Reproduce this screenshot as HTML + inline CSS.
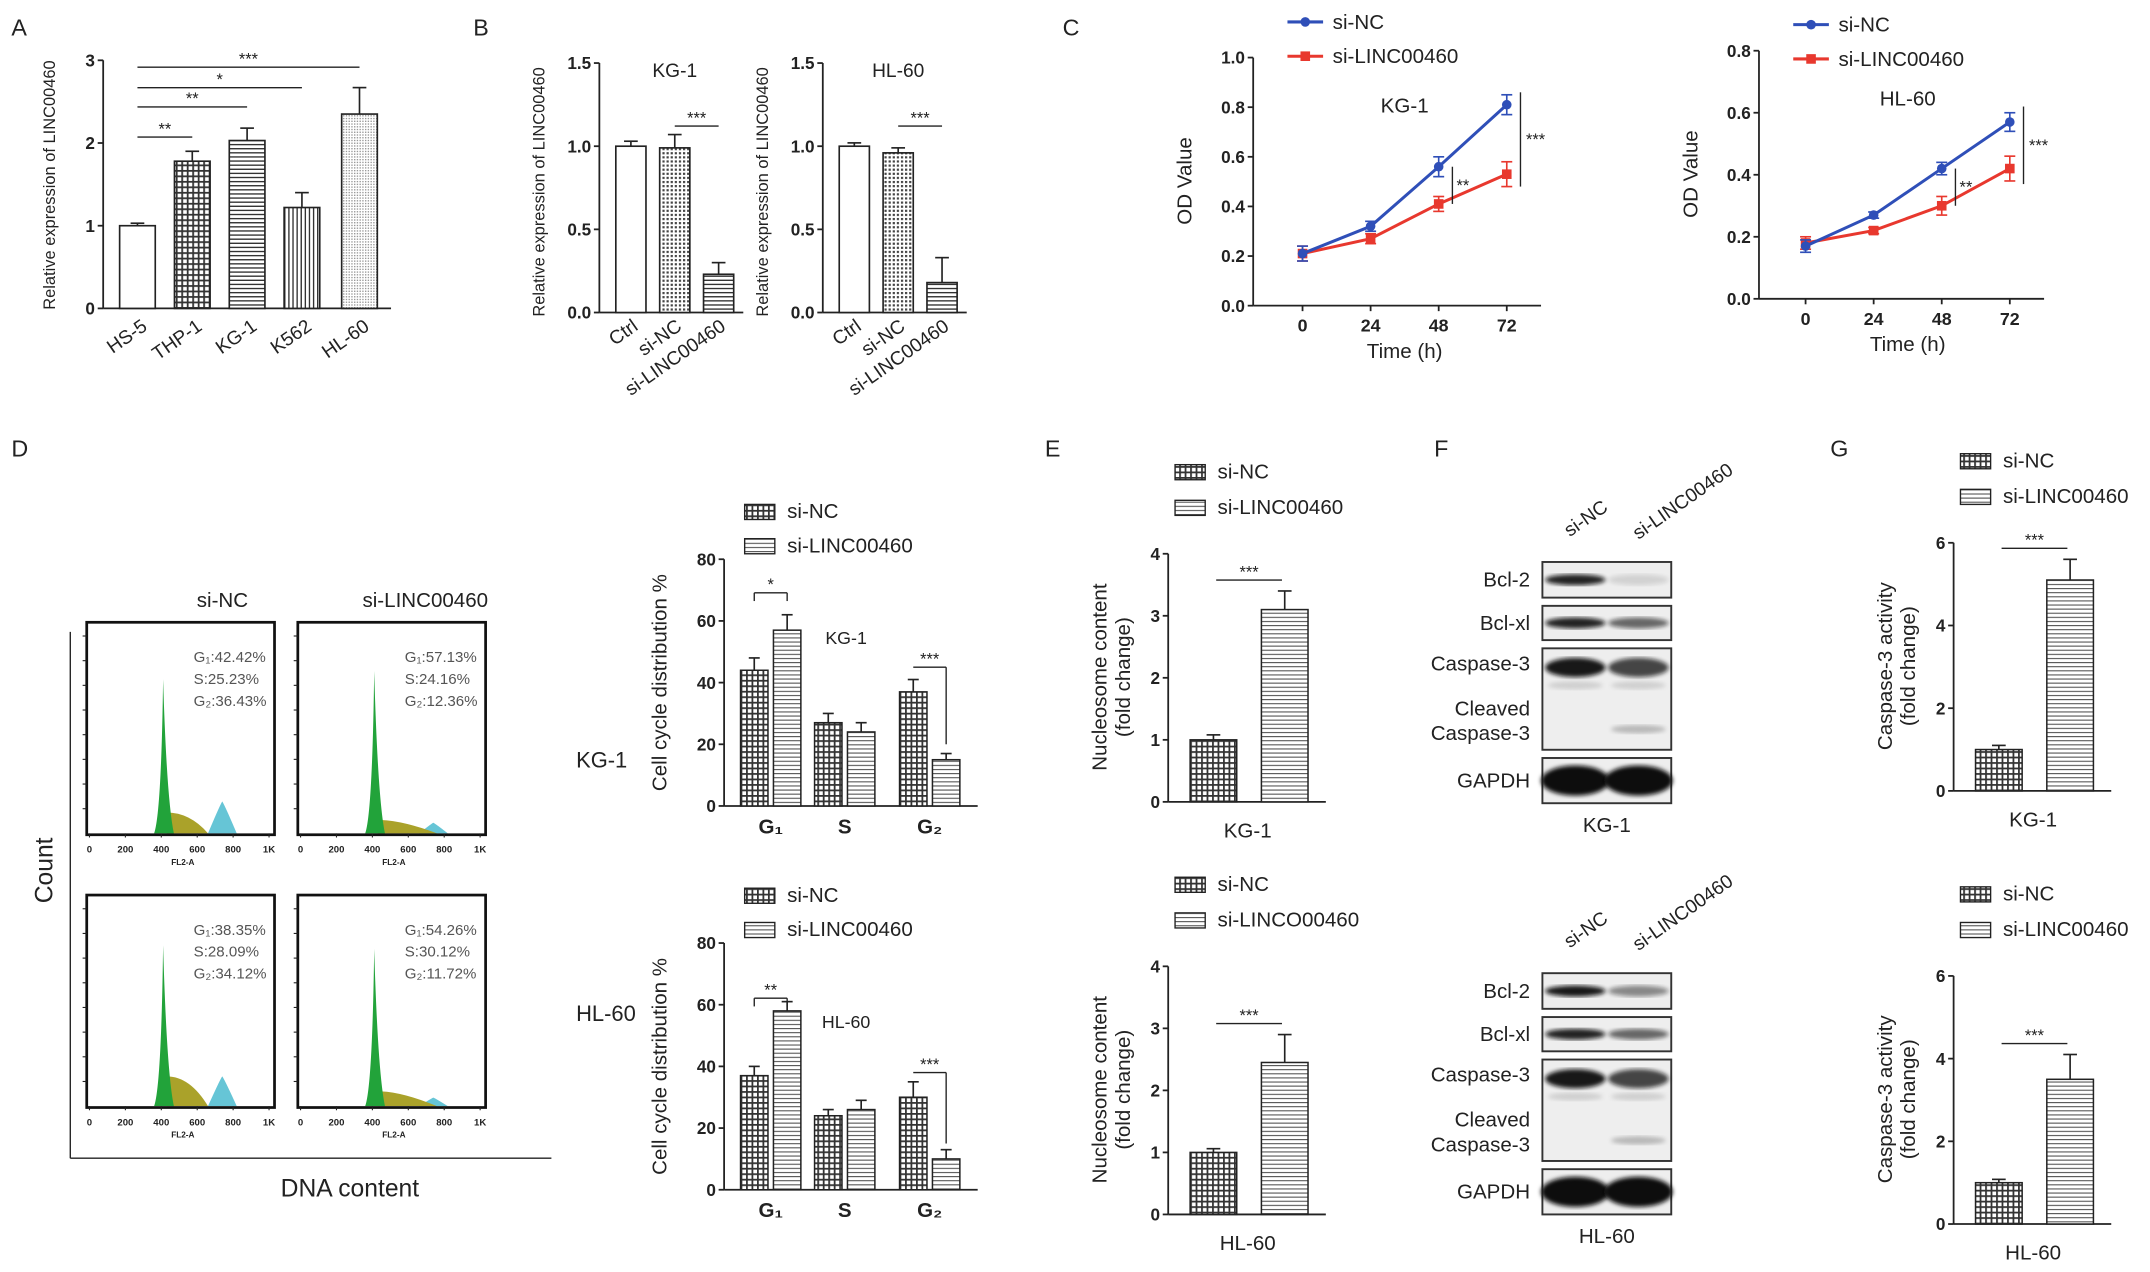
<!DOCTYPE html>
<html><head><meta charset="utf-8"><style>
html,body{margin:0;padding:0;background:#fff;}
svg{display:block;font-family:"Liberation Sans",Arial,sans-serif;}
</style></head><body>
<svg id="fig" width="2150" height="1272" viewBox="0 0 1568 928" xmlns="http://www.w3.org/2000/svg">
<defs>
<pattern id="pDots" width="3" height="3" patternUnits="userSpaceOnUse"><rect width="3" height="3" fill="#fff"/><rect width="1.6" height="1.6" fill="#444"/></pattern>
<pattern id="pGrid" width="4" height="4" patternUnits="userSpaceOnUse"><rect width="4" height="4" fill="#fff"/><rect width="4" height="1.3" fill="#333"/><rect width="1.3" height="4" fill="#333"/></pattern>
<pattern id="pH" width="4" height="3" patternUnits="userSpaceOnUse"><rect width="4" height="3" fill="#fff"/><rect width="4" height="1" fill="#333"/></pattern>
<pattern id="pV" width="3" height="4" patternUnits="userSpaceOnUse"><rect width="3" height="4" fill="#fff"/><rect width="1" height="4" fill="#333"/></pattern>
<pattern id="pFine" width="2" height="2" patternUnits="userSpaceOnUse"><rect width="2" height="2" fill="#fff"/><rect width="1" height="1" fill="#999"/></pattern>
<pattern id="pLines" width="4" height="3" patternUnits="userSpaceOnUse"><rect width="4" height="3" fill="#fff"/><rect width="4" height="0.8" fill="#555"/></pattern>
<filter id="blur"><feGaussianBlur stdDeviation="1.5"/></filter>
</defs>
<g id="root"></g>
</svg>
<script>
// ---------- DATA ----------
const aCats=["HS-5","THP-1","KG-1","K562","HL-60"];
const aVals=[1.0,1.78,2.03,1.22,2.35];
const aErr=[0.03,0.12,0.15,0.18,0.32];
const aTicks=[0,1,2,3];
const bCats=["Ctrl","si-NC","si-LINC00460"];
const bKG=[1.0,0.99,0.23];
const bKGErr=[0.03,0.08,0.07];
const bHL=[1.0,0.96,0.18];
const bHLErr=[0.02,0.03,0.15];
const bTicks=[0,0.5,1.0,1.5];
const cTimes=[0,24,48,72];
const cKGNC=[0.21,0.32,0.56,0.81];
const cKGNCErr=[0.03,0.02,0.04,0.04];
const cKGSi=[0.21,0.27,0.41,0.53];
const cKGSiErr=[0.03,0.02,0.03,0.05];
const cKGTicks=[0,0.2,0.4,0.6,0.8,1.0];
const cHLNC=[0.17,0.27,0.42,0.57];
const cHLNCErr=[0.02,0.01,0.02,0.03];
const cHLSi=[0.18,0.22,0.30,0.42];
const cHLSiErr=[0.02,0.01,0.03,0.04];
const cHLTicks=[0,0.2,0.4,0.6,0.8];
const dPhases=["G₁","S","G₂"];
const dKGNC=[44,27,37];
const dKGSi=[57,24,15];
const dKGNCErr=[4,3,4];
const dKGSiErr=[5,3,2];
const dHLNC=[37,24,30];
const dHLSi=[58,26,10];
const dHLNCErr=[3,2,5];
const dHLSiErr=[3,3,3];
const dTicks=[0,20,40,60,80];
const eKG=[1.0,3.1];
const eKGErr=[0.08,0.3];
const eHL=[1.0,2.45];
const eHLErr=[0.06,0.45];
const eTicks=[0,1,2,3,4];
const gKG=[1.0,5.1];
const gKGErr=[0.1,0.5];
const gHL=[1.0,3.5];
const gHLErr=[0.08,0.6];
const gTicks=[0,2,4,6];
const flowLabels=[["G₁:42.42%","S:25.23%","G₂:36.43%"],["G₁:57.13%","S:24.16%","G₂:12.36%"],["G₁:38.35%","S:28.09%","G₂:34.12%"],["G₁:54.26%","S:30.12%","G₂:11.72%"]];
const flowG2=[0.30,0.10,0.28,0.08];
const flowS=[0.14,0.09,0.20,0.10];
const flowG1=[0.93,0.98,0.97,0.95];

// ---------- helpers ----------
const NS="http://www.w3.org/2000/svg";
const root=document.getElementById('root');
function mk(tag,attrs,parent){const e=document.createElementNS(NS,tag);for(const k in attrs)e.setAttribute(k,attrs[k]);(parent||root).appendChild(e);return e;}
function txt(x,y,s,size,anchor,parent,extra){const t=mk('text',Object.assign({x:x,y:y,'font-size':size,'text-anchor':anchor||'start',fill:'#222'},extra||{}),parent);t.textContent=s;return t;}
function lin(x1,y1,x2,y2,parent,w,c){return mk('line',{x1,y1,x2,y2,stroke:c||'#222','stroke-width':w||1.3},parent);}
function scale(d0,d1,r0,r1){return v=>r0+(v-d0)*(r1-r0)/(d1-d0);}
function yAxis(g,x,yS,ticks,fmt){lin(x,yS(ticks[ticks.length-1]),x,yS(ticks[0]),g);ticks.forEach(t=>{lin(x-4,yS(t),x,yS(t),g);txt(x-6,yS(t)+4.5,fmt(t),12.5,'end',g,{'font-weight':'bold'});});}
function errBar(g,x,ytop,yerr,w){lin(x,ytop,x,yerr,g,1.2);lin(x-w,yerr,x+w,yerr,g,1.2);}
function sig(g,x1,x2,y,s,drop){lin(x1,y,x2,y,g,1);if(drop){lin(x1,y,x1,y+drop,g,1);lin(x2,y,x2,y+drop,g,1);}txt((x1+x2)/2,y-2,s,12,'middle',g);}
function panelLetter(x,y,s){const t=txt(x,y,s,17,'start');}

// ---------- Panel A ----------
panelLetter(8,26,"A");
{const g=mk('g',{});
const y=scale(0,3,225,44);const x0=75;const xs=[100,140,180,220,262];const fills=["#fff","url(#pGrid)","url(#pH)","url(#pV)","url(#pFine)"];
yAxis(g,x0,y,aTicks,t=>String(t));lin(x0,225,285,225,g);
aCats.forEach((c,i)=>{const r=mk('rect',{x:xs[i]-13,y:y(aVals[i]),width:26,height:225-y(aVals[i]),fill:fills[i],stroke:'#222','stroke-width':1.2},g);

errBar(g,xs[i],y(aVals[i]),y(aVals[i]+aErr[i]),5);
txt(xs[i]+8,240,c,14,'end',g,{transform:`rotate(-35 ${xs[i]+8} 240)`});});
sig(g,xs[0],xs[1],100,"**");sig(g,xs[0],xs[2],78,"**");sig(g,xs[0],xs[3],64,"*");sig(g,xs[0],xs[4],49,"***");
txt(40,135,"Relative expression of LINC00460",12,'middle',g,{transform:'rotate(-90 40 135)'});}

// ---------- Panel B ----------
panelLetter(345,26,"B");
function panelB(x0,vals,errs,title,nm){const g=mk('g',{});
const y=scale(0,1.5,228,46);const xs=[x0+23,x0+55,x0+87];const fills=["#fff","url(#pDots)","url(#pH)"];
yAxis(g,x0,y,bTicks,t=>t.toFixed(1));lin(x0,228,x0+105,228,g);
bCats.forEach((c,i)=>{const r=mk('rect',{x:xs[i]-11,y:y(vals[i]),width:22,height:228-y(vals[i]),fill:fills[i],stroke:'#222','stroke-width':1.2},g);

errBar(g,xs[i],y(vals[i]),y(vals[i]+errs[i]),5);
txt(xs[i]+6,240,c,14,'end',g,{transform:`rotate(-35 ${xs[i]+6} 240)`});});
sig(g,xs[1],xs[2],92,"***");txt(x0+55,56,title,14,'middle',g);
txt(x0-40,140,"Relative expression of LINC00460",12,'middle',g,{transform:`rotate(-90 ${x0-40} 140)`});}
panelB(437,bKG,bKGErr,"KG-1",'panel-b-kg1-chart');panelB(600,bHL,bHLErr,"HL-60",'panel-b-hl60-chart');

// ---------- Panel C ----------
panelLetter(775,26,"C");
function panelC(x0,yTop,ticks,nc,ncE,si,siE,title,nm,xpos,legY){const g=mk('g',{});
const yb=yTop+181;const y=scale(0,ticks[ticks.length-1],yb,yTop);const x=scale(0,72,xpos[0],xpos[1]);
yAxis(g,x0,y,ticks,t=>t.toFixed(1));lin(x0,yb,x(72)+25,yb,g);
cTimes.forEach(t=>{lin(x(t),yb,x(t),yb+4,g);txt(x(t),yb+19,String(t),13,'middle',g,{'font-weight':'bold'});});
txt(x(36),yb+38,"Time (h)",15,'middle',g);txt(x0-45,yTop+90,"OD Value",15,'middle',g,{transform:`rotate(-90 ${x0-45} ${yTop+90})`});
txt(x(36),yTop+40,title,15,'middle',g);
[[si,siE,'#e8382e','series-si-linc00460'],[nc,ncE,'#2f4fb8','series-si-nc']].forEach(([v,e,c,n])=>{
const p=mk('polyline',{points:v.map((d,i)=>x(cTimes[i])+','+y(d)).join(' '),fill:'none',stroke:c,'stroke-width':2.2},g);
v.forEach((d,i)=>{lin(x(cTimes[i]),y(d-e[i]),x(cTimes[i]),y(d+e[i]),g,1.2,c);lin(x(cTimes[i])-4,y(d+e[i]),x(cTimes[i])+4,y(d+e[i]),g,1.2,c);lin(x(cTimes[i])-4,y(d-e[i]),x(cTimes[i])+4,y(d-e[i]),g,1.2,c);
if(c==='#2f4fb8'){const m=mk('circle',{cx:x(cTimes[i]),cy:y(d),r:3.5,fill:c},g);}
else{const m=mk('rect',{x:x(cTimes[i])-3.5,y:y(d)-3.5,width:7,height:7,fill:c},g);}});});
lin(x(48)+10,y(nc[2]),x(48)+10,y(si[2]),g,1);txt(x(48)+13,y((nc[2]+si[2])/2)+4,"**",12,'start',g);
lin(x(72)+10,y(nc[3]+0.05),x(72)+10,y(si[3]-0.05),g,1);txt(x(72)+14,y((nc[3]+si[3])/2)+4,"***",12,'start',g);
const lx=x0+25;const l1=mk('g',{},g);
lin(lx,legY,lx+26,legY,l1,2.2,'#2f4fb8');mk('circle',{cx:lx+13,cy:legY,r:3.5,fill:'#2f4fb8'},l1);txt(lx+33,legY+5,"si-NC",15,'start',l1);
const l2=mk('g',{},g);
lin(lx,legY+25,lx+26,legY+25,l2,2.2,'#e8382e');mk('rect',{x:lx+9.5,y:legY+21.5,width:7,height:7,fill:'#e8382e'},l2);txt(lx+33,legY+30,"si-LINC00460",15,'start',l2);}
panelC(914,42,cKGTicks,cKGNC,cKGNCErr,cKGSi,cKGSiErr,"KG-1",'panel-c-kg1-chart',[950,1099],16);
panelC(1283,37,cHLTicks,cHLNC,cHLNCErr,cHLSi,cHLSiErr,"HL-60",'panel-c-hl60-chart',[1317,1466],18);

// ---------- Panel D flow ----------
panelLetter(8,333,"D");
{const g=mk('g',{});
txt(162,443,"si-NC",15,'middle',g);txt(310,443,"si-LINC00460",15,'middle',g);
txt(38,635,"Count",18,'middle',g,{transform:'rotate(-90 38 635)'});lin(51,461,51,845,g,1);lin(51,845,402,845,g,1);
txt(255,873,"DNA content",18,'middle',g);txt(420,560,"KG-1",16,'start',g);txt(420,745,"HL-60",16,'start',g);
const boxes=[[63,454],[217,454],[63,653],[217,653]];
boxes.forEach((b,k)=>{const bx=b[0],by=b[1],w=137,h=155;const sg=mk('g',{},g);
const base=by+h-1;const X=v=>bx+2+v/1000*(w-6);
mk('path',{d:`M${X(660)} ${base} Q${X(735)} ${base-h*flowG2[k]*0.5} ${X(740)} ${base-h*flowG2[k]*0.5} Q${X(760)} ${base-h*flowG2[k]*0.4} ${X(820)} ${base} Z`,fill:'#66c5d6'},sg);
mk('path',{d:`M${X(430)} ${base} L${X(430)} ${base-h*flowS[k]*0.7} Q${X(560)} ${base-h*flowS[k]*0.7} ${X(k%2?760:660)} ${base} Z`,fill:'#aaa22a'},sg);
mk('path',{d:`M${X(360)} ${base} Q${X(400)} ${base-15} ${X(410)} ${base-h*flowG1[k]*0.78} Q${X(430)} ${base-25} ${X(470)} ${base} Z`,fill:'#22a33a'},sg);
mk('rect',{x:bx,y:by,width:w,height:h,fill:'none',stroke:'#111','stroke-width':2},sg);
[0,200,400,600,800,1000].forEach((t,i)=>{lin(X(t),base,X(t),base+3,sg,0.8);txt(X(t),base+14,['0','200','400','600','800','1K'][i],7,'middle',sg,{'font-weight':'bold'});});
for(let i=0;i<8;i++)lin(bx-3,by+10+i*18,bx,by+10+i*18,sg,0.8);
txt(X(520),base+23,"FL2-A",6,'middle',sg,{'font-weight':'bold'});
flowLabels[k].forEach((s,i)=>txt(bx+78,by+29+i*16,s,11,'start',sg,{fill:'#555'}));});}

// ---------- Panel D bars ----------
function panelDBar(x0,yTop,nc,ncE,si,siE,title,nm,stars){const g=mk('g',{});
const yb=yTop+180;const y=scale(0,80,yb,yTop);yAxis(g,x0,y,dTicks,t=>String(t));lin(x0,yb,x0+185,yb,g);
const cx=[562,616,678];
dPhases.forEach((p,i)=>{[[nc,ncE,'url(#pGrid)',-12,'si-nc'],[si,siE,'url(#pLines)',12,'si-linc00460']].forEach(([v,e,f,o,n])=>{
const r=mk('rect',{x:cx[i]+o-10,y:y(v[i]),width:20,height:yb-y(v[i]),fill:f,stroke:'#222','stroke-width':1.1},g);
errBar(g,cx[i]+o,y(v[i]),y(v[i]+e[i]),4);});
txt(cx[i],yb+20,p,15,'middle',g,{'font-weight':'bold'});});
sig(g,cx[0]-12,cx[0]+12,y(nc[0]+26)+2,stars[0],6);sig(g,cx[2]-12,cx[2]+12,y(nc[2]+8),stars[1],0);lin(cx[2]+12,y(nc[2]+8),cx[2]+12,y(si[2]+5),g,1);
txt(617,yTop+62,title,13,'middle',g);txt(x0-42,yTop+90,"Cell cycle distribution %",15,'middle',g,{transform:`rotate(-90 ${x0-42} ${yTop+90})`});
const l1=mk('g',{},g);
mk('rect',{x:x0+15,y:yTop-40,width:22,height:11,fill:'url(#pGrid)',stroke:'#222'},l1);txt(x0+46,yTop-30,"si-NC",15,'start',l1);
const l2=mk('g',{},g);
mk('rect',{x:x0+15,y:yTop-15,width:22,height:11,fill:'url(#pLines)',stroke:'#222'},l2);txt(x0+46,yTop-5,"si-LINC00460",15,'start',l2);}
panelDBar(528,408,dKGNC,dKGNCErr,dKGSi,dKGSiErr,"KG-1",'panel-d-kg1-bar-chart',["*","***"]);
panelDBar(528,688,dHLNC,dHLNCErr,dHLSi,dHLSiErr,"HL-60",'panel-d-hl60-bar-chart',["**","***"]);

// ---------- Panel E / G ----------
function twoBar(x0,yTop,ymax,ticks,vals,errs,title,ylab1,nm,legend2){const g=mk('g',{});
const yb=yTop+181;const y=scale(0,ymax,yb,yTop);yAxis(g,x0,y,ticks,t=>String(t));lin(x0,yb,x0+115,yb,g);
const cx=[x0+33,x0+85];const f=['url(#pGrid)','url(#pLines)'];const nmz=['si-nc','si-linc00460'];
vals.forEach((v,i)=>{const r=mk('rect',{x:cx[i]-17,y:y(v),width:34,height:yb-y(v),fill:f[i],stroke:'#222','stroke-width':1.1},g);errBar(g,cx[i],y(v),y(v+errs[i]),5);});
sig(g,cx[0]+2,cx[1]-2,y(vals[1]+errs[1])-8,"***",0);
txt(x0+58,yb+26,title,15,'middle',g);
txt(x0-45,yTop+90,ylab1[0],15,'middle',g,{transform:`rotate(-90 ${x0-45} ${yTop+90})`});txt(x0-28,yTop+90,ylab1[1],15,'middle',g,{transform:`rotate(-90 ${x0-28} ${yTop+90})`});
const l1=mk('g',{},g);
mk('rect',{x:x0+5,y:yTop-65,width:22,height:11,fill:'url(#pGrid)',stroke:'#222'},l1);txt(x0+36,yTop-55,"si-NC",15,'start',l1);
const l2=mk('g',{},g);
mk('rect',{x:x0+5,y:yTop-39,width:22,height:11,fill:'url(#pLines)',stroke:'#222'},l2);txt(x0+36,yTop-29,legend2,15,'start',l2);}
panelLetter(762,333,"E");
twoBar(852,404,4,eTicks,eKG,eKGErr,"KG-1",["Nucleosome content","(fold change)"],'panel-e-kg1-chart',"si-LINC00460");
twoBar(852,705,4,eTicks,eHL,eHLErr,"HL-60",["Nucleosome content","(fold change)"],'panel-e-hl60-chart',"si-LINCO00460");
panelLetter(1335,333,"G");
twoBar(1425,396,6,gTicks,gKG,gKGErr,"KG-1",["Caspase-3 activity","(fold change)"],'panel-g-kg1-chart',"si-LINC00460");
twoBar(1425,712,6,gTicks,gHL,gHLErr,"HL-60",["Caspase-3 activity","(fold change)"],'panel-g-hl60-chart',"si-LINC00460");

// ---------- Panel F blots ----------
panelLetter(1046,333,"F");
function blot(yOff,title,nm,bands){const g=mk('g',{transform:`translate(0 ${yOff})`});
txt(1145,392,"si-NC",14,'start',g,{transform:'rotate(-35 1145 392)'});txt(1195,394,"si-LINC00460",14,'start',g,{transform:'rotate(-35 1195 394)'});
const rows=[[410,436,"Bcl-2"],[442,467,"Bcl-xl"],[473,547,"Caspase-3"],[553,586,"GAPDH"]];
rows.forEach((r,i)=>{mk('rect',{x:1125,y:r[0],width:94,height:r[1]-r[0],fill:'#eeeeee',stroke:'#333','stroke-width':1.4},g);
const by=i==2?r[0]+14:(r[0]+r[1])/2;const bh=i==3?22:(i==2?14:8);
[[1149,bands[i][0]],[1195,bands[i][1]]].forEach(([cx,op])=>{const e=mk('ellipse',{cx:cx,cy:by,rx:i==3?25:22,ry:bh/2,fill:'#111',opacity:op,filter:'url(#blur)'},g);});
txt(1116,i==2?r[0]+16:(r[0]+r[1])/2+5,r[2],15,'end',g);});
mk('ellipse',{cx:1149,cy:500,rx:20,ry:3,fill:'#777',opacity:0.25,filter:'url(#blur)'},g);
mk('ellipse',{cx:1195,cy:500,rx:20,ry:3,fill:'#777',opacity:0.25,filter:'url(#blur)'},g);
mk('ellipse',{cx:1195,cy:532,rx:20,ry:3,fill:'#555',opacity:0.35,filter:'url(#blur)'},g);
txt(1116,522,"Cleaved",15,'end',g);txt(1116,540,"Caspase-3",15,'end',g);
txt(1172,607,title,15,'middle',g);}
blot(0,"KG-1",'panel-f-kg1-western-blot',[[0.9,0.12],[0.9,0.6],[0.95,0.75],[1,1]]);
blot(300,"HL-60",'panel-f-hl60-western-blot',[[0.95,0.45],[0.9,0.6],[0.95,0.75],[1,1]]);
</script>
</body></html>
